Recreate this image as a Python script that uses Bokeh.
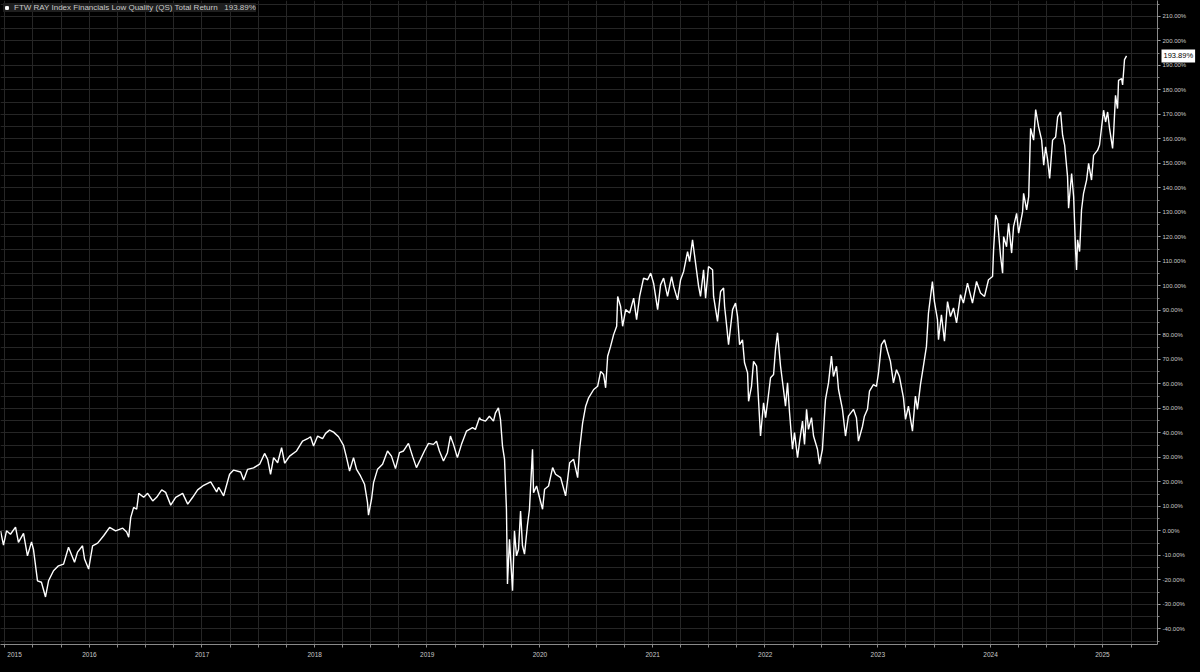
from datetime import datetime
from bokeh.plotting import figure
from bokeh.models import (Range1d, FixedTicker, SingleIntervalTicker, PrintfTickFormatter,
                          CustomJSTickFormatter, Label, GlobalInlineStyleSheet)
from bokeh.embed import file_html
from bokeh.resources import INLINE

# ---------------- data (decimal year, total return %) ----------------
dates_dec = [
    2015.712, 2015.738, 2015.765, 2015.800, 2015.845, 2015.871, 2015.916, 2015.951, 2015.987, 2016.004,
    2016.040, 2016.075, 2016.111, 2016.138, 2016.182, 2016.226, 2016.271, 2016.315, 2016.368, 2016.395,
    2016.439, 2016.457, 2016.493, 2016.528, 2016.573, 2016.626, 2016.679, 2016.732, 2016.795, 2016.830,
    2016.848, 2016.866, 2016.892, 2016.919, 2016.937, 2016.981, 2017.016, 2017.061, 2017.096, 2017.141,
    2017.176, 2017.221, 2017.265, 2017.327, 2017.372, 2017.416, 2017.460, 2017.514, 2017.576, 2017.629,
    2017.647, 2017.691, 2017.744, 2017.780, 2017.842,
    2017.869, 2017.904, 2017.957, 2018.011, 2018.055, 2018.082, 2018.108, 2018.135, 2018.171, 2018.206,
    2018.233, 2018.277, 2018.339, 2018.392, 2018.437, 2018.463, 2018.490, 2018.526, 2018.570, 2018.597,
    2018.632, 2018.668, 2018.712, 2018.756, 2018.783, 2018.810, 2018.845, 2018.872, 2018.907, 2018.943,
    2018.969, 2018.978, 2019.005, 2019.023, 2019.058, 2019.103, 2019.147, 2019.182, 2019.218, 2019.253,
    2019.289, 2019.333, 2019.369, 2019.404, 2019.440, 2019.475, 2019.511, 2019.555, 2019.582, 2019.608,
    2019.644, 2019.679, 2019.706, 2019.733, 2019.768, 2019.804, 2019.848, 2019.902, 2019.928, 2019.964,
    2019.973, 2020.017, 2020.052, 2020.088, 2020.106, 2020.132, 2020.150, 2020.168, 2020.186, 2020.203,
    2020.212, 2020.230, 2020.257, 2020.274, 2020.292, 2020.310, 2020.328, 2020.345, 2020.363, 2020.390,
    2020.407, 2020.434, 2020.443, 2020.470, 2020.496, 2020.523, 2020.541, 2020.576, 2020.612, 2020.638,
    2020.683, 2020.727, 2020.763, 2020.798, 2020.834, 2020.851, 2020.878, 2020.905, 2020.931, 2020.976,
    2021.011, 2021.038, 2021.064, 2021.082, 2021.100, 2021.126, 2021.153, 2021.180, 2021.189, 2021.215,
    2021.233, 2021.260, 2021.295, 2021.331, 2021.357, 2021.384, 2021.419, 2021.455, 2021.482, 2021.508,
    2021.544, 2021.570, 2021.597, 2021.632, 2021.668, 2021.686, 2021.721, 2021.748, 2021.775, 2021.810,
    2021.828, 2021.854, 2021.881, 2021.908, 2021.925, 2021.952, 2021.970, 2021.996, 2022.032, 2022.041,
    2022.076, 2022.103,
    2022.130, 2022.139, 2022.156, 2022.174, 2022.210, 2022.236, 2022.254, 2022.272, 2022.298, 2022.316,
    2022.343, 2022.352, 2022.378, 2022.396, 2022.423, 2022.440, 2022.458, 2022.485, 2022.503, 2022.520,
    2022.547, 2022.574, 2022.591, 2022.609, 2022.636, 2022.662, 2022.680, 2022.698, 2022.716, 2022.742,
    2022.760, 2022.787, 2022.804, 2022.831, 2022.849, 2022.867, 2022.884, 2022.911, 2022.929, 2022.964,
    2022.982, 2023.008, 2023.035, 2023.062, 2023.088, 2023.106, 2023.133, 2023.151, 2023.186, 2023.213,
    2023.239, 2023.284, 2023.310, 2023.328, 2023.364, 2023.381, 2023.408, 2023.426, 2023.461, 2023.488,
    2023.506, 2023.532, 2023.559, 2023.586, 2023.612, 2023.639, 2023.666, 2023.692, 2023.728, 2023.746,
    2023.772, 2023.808, 2023.834, 2023.852, 2023.879, 2023.905, 2023.932, 2023.950, 2023.985, 2024.003,
    2024.030, 2024.039, 2024.065, 2024.092, 2024.119, 2024.145, 2024.172, 2024.199, 2024.234,
    2024.260, 2024.296, 2024.340, 2024.376, 2024.411, 2024.447, 2024.482, 2024.518, 2024.527, 2024.545,
    2024.562, 2024.589, 2024.607, 2024.616, 2024.642, 2024.660, 2024.687, 2024.704, 2024.731, 2024.749,
    2024.784, 2024.793, 2024.820, 2024.838, 2024.855, 2024.882, 2024.900, 2024.926, 2024.953, 2024.971,
    2024.988, 2025.006, 2025.024, 2025.050, 2025.077, 2025.095, 2025.121, 2025.139, 2025.157, 2025.183,
    2025.192, 2025.219, 2025.237, 2025.254, 2025.263, 2025.272, 2025.290, 2025.307, 2025.325, 2025.352,
    2025.370, 2025.396, 2025.414, 2025.450, 2025.467, 2025.503, 2025.521, 2025.539, 2025.556, 2025.583,
    2025.592, 2025.609, 2025.627, 2025.636, 2025.663, 2025.672, 2025.689, 2025.707,
]
total_return = [
    0.0, -5.8, 0.0, -1.4, 1.5, -4.7, -1.0, -10.2, -4.5, -7.5,
    -20.4, -21.0, -27.0, -20.4, -16.3, -14.3, -13.6, -6.7, -12.8, -8.7,
    -6.1, -11.5, -15.6, -6.1, -5.0, -2.0, 1.4, 0.0, 1.1, -0.5,
    -2.6, 5.4, 9.6, 8.8, 15.3, 13.7, 15.3, 12.2, 13.7, 16.7,
    15.7, 10.5, 13.7, 15.3, 10.9, 13.7, 16.7, 18.6, 20.0, 15.9,
    17.8, 14.3, 23.1, 24.8, 24.0,
    20.8, 25.1, 25.7, 27.2, 31.6, 29.2, 23.1, 29.9, 27.8, 34.0,
    27.6, 30.5, 32.6, 36.6, 37.6, 38.4, 34.6, 38.7, 37.6, 39.8,
    41.1, 40.3, 38.4, 34.9, 29.9, 24.4, 29.9, 25.1, 22.4, 19.0,
    11.6, 6.4, 12.9, 19.7, 25.1, 27.2, 32.6, 30.5, 25.4, 31.9,
    32.6, 35.7, 30.5, 25.8, 29.2, 32.6, 35.7, 35.3, 36.6, 32.6,
    28.5, 31.9, 38.7, 35.3, 29.9, 35.3, 40.7, 42.1, 41.4, 46.2,
    45.5, 44.8, 46.8, 44.8, 48.2, 50.2, 45.5, 34.6, 29.2, 8.8,
    -21.7, -3.4, -24.4, 0.0, -10.2, -7.5, 8.1, -6.1, -9.5, 2.7,
    8.8, 33.3, 15.6, 18.3, 13.6, 8.8, 17.0, 18.3, 25.8, 23.1,
    21.7, 14.3, 27.8, 29.2, 21.7, 33.3, 44.1, 50.9, 54.3, 57.7,
    59.0, 65.1, 63.8, 58.4, 71.3, 75.3, 80.1, 83.5, 95.7, 91.6,
    83.5, 90.3, 88.9, 95.0, 86.2, 95.7, 103.2, 102.5, 105.2, 101.1,
    90.3, 100.4, 103.2, 95.7, 103.8, 99.8, 94.3, 102.5, 105.9, 114.0,
    109.9, 118.8, 109.3, 99.8, 95.7, 106.6, 95.0, 107.9, 106.6, 95.7,
    85.5, 97.7,
    99.1, 91.6, 84.2, 76.0, 90.3, 93.0, 87.5, 76.0, 78.0, 68.6,
    64.5, 52.9, 59.0, 69.2, 67.2, 53.6, 38.7, 52.3, 46.2, 52.3,
    62.5, 63.8, 74.0, 80.8, 67.2, 57.7, 50.9, 60.4, 48.2, 33.3,
    40.1, 29.9, 36.0, 44.8, 35.3, 49.6, 41.4, 46.2, 38.7, 33.3,
    27.2, 33.3, 53.6, 60.4, 71.3, 63.0, 67.2, 57.7, 49.6, 38.7,
    46.8, 49.6, 46.2, 36.6, 42.7, 46.8, 49.6, 57.0, 59.7, 59.0,
    64.5, 76.0, 78.0, 73.3, 69.2, 60.4, 65.8, 63.0, 54.3, 45.5,
    50.9, 40.7, 55.0, 49.6, 59.7, 67.2, 75.3, 88.9, 101.8, 93.6,
    86.2, 78.0, 88.2, 77.4, 93.6, 87.5, 91.0, 84.9, 96.4,
    93.0, 101.1, 93.0, 101.8, 97.1, 95.7, 102.5, 103.8, 114.7, 128.9,
    126.9, 112.0, 105.2, 120.1, 116.0, 125.5, 113.4, 124.2, 129.6, 121.5,
    130.3, 137.8, 131.0, 136.4, 164.3, 159.5, 172.0, 164.9, 159.5, 149.3,
    156.8, 151.4, 143.9, 159.5, 160.8, 169.0, 171.0, 161.5, 157.5, 144.5,
    131.7, 145.9, 136.4, 114.7, 106.5, 118.8, 114.0, 131.0, 137.8, 143.2,
    150.0, 143.2, 153.3, 155.4, 157.5, 171.7, 166.9, 171.0, 164.3, 156.1,
    162.2, 177.8, 172.4, 183.9, 184.6, 182.0, 192.4, 193.89,
]
series_name = "FTW RAY Index Financials Low Quality (QS) Total Return"
last_label = "193.89%"
year_label_pos = [2015.836, 2016.5, 2017.5, 2018.5, 2019.5, 2020.5, 2021.5, 2022.5, 2023.5, 2024.5, 2025.493]
x_start_dec, x_end_dec = 2015.7115, 2025.982
y_start, y_end = -46.4, 216.5

EPOCH = datetime(1970, 1, 1)


def dec_to_dt(y):
    yr = int(y)
    a = datetime(yr, 1, 1)
    b = datetime(yr + 1, 1, 1)
    return a + (b - a) * (y - yr)


def to_ms(dt):
    return (dt - EPOCH).total_seconds() * 1000.0


dates = [dec_to_dt(d) for d in dates_dec]
quarters = [to_ms(datetime(y, m, 1)) for y in range(2015, 2027) for m in (1, 4, 7, 10)]
label_ticks = [to_ms(dec_to_dt(v)) for v in year_label_pos]

FONT = "Liberation Sans"
GRID = "#262626"
AXIS = "#8a8a8a"
TXT = "#c8c8c8"

p = figure(width=1200, height=672, x_axis_type="datetime", y_axis_location="right",
           output_backend="svg", toolbar_location=None,
           x_range=Range1d(to_ms(dec_to_dt(x_start_dec)), to_ms(dec_to_dt(x_end_dec))),
           y_range=Range1d(y_start, y_end),
           background_fill_color="black", border_fill_color="black",
           outline_line_color=None,
           min_border_left=0, min_border_top=0, min_border_right=43, min_border_bottom=0)

p.stylesheets = [GlobalInlineStyleSheet(css="html, body {margin:0; padding:0; background:#000; overflow:hidden;}")]

# y axis (right)
yax = p.yaxis[0]
yax.ticker = SingleIntervalTicker(interval=10, num_minor_ticks=2)
yax.formatter = PrintfTickFormatter(format="%.2f%%")
yax.axis_line_color = AXIS
yax.major_tick_line_color = "#bbbbbb"
yax.minor_tick_line_color = AXIS
yax.major_tick_in = 0
yax.major_tick_out = 3
yax.minor_tick_in = 0
yax.minor_tick_out = 2
yax.major_label_standoff = 2
yax.major_label_text_font = FONT
yax.major_label_text_font_size = "6px"
yax.major_label_text_color = TXT

# x axis (below)
xax = p.xaxis[0]
xax.ticker = FixedTicker(ticks=label_ticks, minor_ticks=quarters)
xax.formatter = CustomJSTickFormatter(code="return String(new Date(tick).getUTCFullYear());")
xax.axis_line_color = AXIS
xax.major_tick_line_color = None
xax.major_tick_in = 0
xax.major_tick_out = 0
xax.minor_tick_line_color = AXIS
xax.minor_tick_in = 0
xax.minor_tick_out = 3
xax.major_label_standoff = 4
xax.major_label_text_font = FONT
xax.major_label_text_font_size = "6.5px"
xax.major_label_text_color = TXT

p.xgrid.grid_line_color = None
p.xgrid.minor_grid_line_color = GRID
p.ygrid.grid_line_color = GRID
p.ygrid.minor_grid_line_color = GRID

p.line(x=dates, y=total_return, line_color="white", line_width=1.4)

# legend entry with square marker (NaN point so only the legend shows the square)
p.scatter(x=[dates[-1]], y=[float("nan")], marker="square", size=7, fill_color="white",
          line_color="white", legend_label=series_name + "\u00a0\u00a0\u00a0" + last_label)
lg = p.legend[0]
lg.location = "top_left"
lg.margin = 3
lg.padding = 3
lg.spacing = 0
lg.glyph_width = 7
lg.glyph_height = 7
lg.label_height = 8
lg.label_standoff = 4
lg.label_text_font = FONT
lg.label_text_font_size = "8px"
lg.label_text_color = TXT
lg.background_fill_color = "#1e1e1e"
lg.background_fill_alpha = 1.0
lg.border_line_color = None

# last value tag, hosted in a side panel so it is not clipped to the frame
tag = Label(x=to_ms(dec_to_dt(x_end_dec)), y=total_return[-1], x_offset=4,
            text=last_label, text_color="black", text_font=FONT, text_font_size="7.5px",
            text_baseline="middle", text_align="left",
            background_fill_color="white", background_fill_alpha=1.0, padding=2)
p.add_layout(tag, "below")

open("out.html", "w").write(file_html(p, INLINE))
